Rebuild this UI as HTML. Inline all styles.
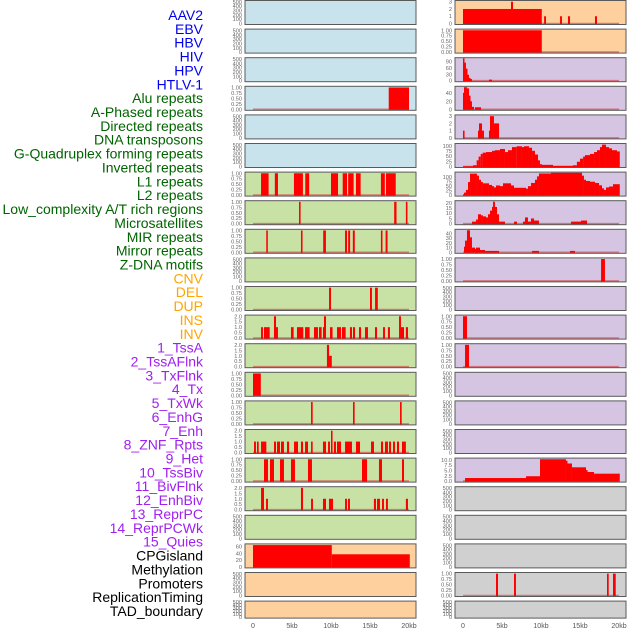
<!DOCTYPE html>
<html><head><meta charset="utf-8"><style>
html,body{margin:0;padding:0;background:#fff;}
svg{display:block;font-family:"Liberation Sans",sans-serif;}
</style></head><body>
<svg id="chart" width="630" height="630" viewBox="0 0 630 630" xmlns="http://www.w3.org/2000/svg"></svg>
<script>
// ---- labels ----
const labels=["AAV2","EBV","HBV","HIV","HPV","HTLV-1","Alu repeats","A-Phased repeats","Directed repeats","DNA transposons","G-Quadruplex forming repeats","Inverted repeats","L1 repeats","L2 repeats","Low_complexity A/T rich regions","Microsatellites","MIR repeats","Mirror repeats","Z-DNA motifs","CNV","DEL","DUP","INS","INV","1_TssA","2_TssAFlnk","3_TxFlnk","4_Tx","5_TxWk","6_EnhG","7_Enh","8_ZNF_Rpts","9_Het","10_TssBiv","11_BivFlnk","12_EnhBiv","13_ReprPC","14_ReprPCWk","15_Quies","CPGisland","Methylation","Promoters","ReplicationTiming","TAD_boundary"];
const labelColors=["#0000ee","#0000ee","#0000ee","#0000ee","#0000ee","#0000ee","#006400","#006400","#006400","#006400","#006400","#006400","#006400","#006400","#006400","#006400","#006400","#006400","#006400","#ffa500","#ffa500","#ffa500","#ffa500","#ffa500","#a020f0","#a020f0","#a020f0","#a020f0","#a020f0","#a020f0","#a020f0","#a020f0","#a020f0","#a020f0","#a020f0","#a020f0","#a020f0","#a020f0","#a020f0","#000","#000","#000","#000","#000"];
const xTicks=[0,5,10,15,20];
const xTickLabels=["0","5kb","10kb","15kb","20kb"];
// ---- data: [startKb, endKb, value] ----
const hivData=[[17.4,20,1]];
const aluData=[[1.03,2.0,1],[2.8,3.2,1],[5.25,6.4,1],[6.7,7.2,1],[10.0,10.9,1],[11.5,12.05,1],[12.2,12.9,1],[13.2,13.8,1],[16.4,16.9,1],[17.05,18.3,1]];
const aPhasedData=[[5.9,6.1,1],[18.1,18.4,1],[19.6,19.8,1]];
const directedData=[[1.7,1.9,1],[6.15,6.35,1],[9.0,9.35,1],[11.8,12.05,1],[12.2,12.45,1],[12.8,13.05,1],[16.4,16.6,1],[17.0,17.25,1]];
const gquadData=[[9.75,10.0,1],[15.0,15.25,1],[15.65,16.0,1]];
const invertedData=[[1.03,1.28,1],[1.41,2.14,1],[2.69,2.95,2],[2.95,3.2,1],[4.87,5.21,1],[5.64,6.45,1],[6.67,7.26,1],[7.82,8.33,1],[8.46,8.8,1],[8.97,9.1,1],[9.1,9.36,2],[9.87,10.2,1],[10.77,11.28,1],[11.41,11.88,1],[12.43,12.69,1],[12.82,13.08,1],[13.59,13.85,1],[14.36,14.74,1],[15.64,15.9,1],[16.67,16.92,1],[17.3,17.56,1],[18.72,18.97,2],[18.97,19.36,1],[19.6,19.87,1]];
const l1Data=[[9.48,9.75,2],[9.75,10.1,1]];
const l2Data=[[0,1.0,1]];
const lowCompData=[[7.44,7.65,1],[12.82,13.03,1],[18.85,19.06,1]];
const microsatData=[[0.13,0.38,1],[0.51,0.73,1],[1.03,1.71,1],[2.69,2.95,1],[3.08,3.46,1],[3.59,3.97,1],[4.36,4.62,1],[5.26,5.77,1],[6.15,6.41,1],[6.67,7.05,1],[7.44,7.65,1],[8.97,9.36,1],[9.62,9.87,1],[10.0,10.2,2],[10.38,10.64,1],[10.77,11.28,1],[11.8,12.69,1],[13.2,13.72,1],[15.13,15.51,1],[16.41,16.67,1],[16.92,17.3,1],[17.44,17.69,1],[17.95,18.2,1],[18.46,18.72,1],[19.1,19.6,1]];
const mirData=[[1.41,1.92,1],[2.18,2.69,1],[3.46,3.97,1],[4.87,5.38,1],[7.05,7.56,1],[13.97,14.62,1],[16.15,16.54,1],[19.1,19.36,1]];
const mirrorData=[[1.03,1.41,2],[1.67,1.92,1],[6.15,6.41,2],[7.44,7.69,1],[8.97,9.36,1],[9.74,10.26,1],[11.8,12.05,1],[12.18,12.43,1],[15.5,15.77,1],[15.9,16.28,1],[16.54,16.79,1],[17.05,17.3,1],[19.6,19.87,1]];
const cnvData=[[0,10.1,64],[10.1,20.1,37]];
const insData=[[0,10.1,2],[6.15,6.41,3],[10.4,10.64,1],[12.44,12.69,1],[13.46,13.72,1],[16.92,17.18,1]];
const invData=[[0,10.1,1]];
const tssAData=[[0,0.13,106],[0.13,0.38,85],[0.38,0.51,57],[0.51,0.77,28],[0.77,0.9,13],[0.9,1.15,8],[3.33,3.72,5]];
const tssAFlnkData=[[0,0.13,41],[0.13,0.51,55],[0.51,0.77,52],[0.77,0.9,34],[0.9,1.15,20],[1.15,1.41,6],[1.54,2.31,5]];
const txFlnkData=[[0,0.2,1],[1.92,2.05,1],[2.05,2.44,2],[2.44,2.69,1],[3.33,3.46,1],[3.46,3.97,3],[3.97,4.62,2]];
const txBreaks=[0,1.28,1.75,2.0,2.27,2.52,2.95,3.72,4.1,4.74,5.38,5.77,6.28,6.88,7.56,7.82,8.46,8.85,9.23,9.62,9.87,10.13,11.54,14.1,14.6,15.0,15.4,15.64,16.28,16.8,17.18,17.56,17.82,18.33,18.72,19.1,19.74,20.1];
const txValues=[1,6,30,48,61,67,70,76,79,85,70,79,94,98,94,98,91,76,58,30,11,8,3,6,23,38,48,55,61,70,79,94,106,94,88,79,73];
const txWkBreaks=[0,0.13,0.38,0.64,0.9,1.79,2.05,2.31,2.56,3.33,3.72,3.97,4.23,4.74,5.13,6.15,6.54,8.08,8.33,8.72,9.23,9.49,9.74,11.28,15.26,15.51,15.77,16.28,16.92,17.44,17.82,18.08,18.33,18.72,19.23,20.1];
const txWkValues=[4,14,29,73,120,109,86,73,66,57,50,43,54,50,66,54,41,36,50,68,86,105,121,125,109,86,79,75,68,55,38,29,43,48,61];
const enhGData=[[1.15,1.67,2],[1.67,1.92,4],[1.92,2.31,9],[2.31,2.56,8],[2.56,2.95,7],[2.95,3.2,6],[3.2,3.46,9],[3.46,3.72,12.5],[3.72,3.85,16],[3.85,4.1,21],[4.1,4.36,16],[4.36,4.62,9],[4.62,5.38,2],[6.54,6.92,2],[7.69,7.95,2],[7.95,8.33,6],[8.33,8.72,2],[8.72,9.1,5],[9.1,9.74,3],[13.85,15.13,2],[15.13,15.9,3]];
const enhData=[[0.13,0.26,12],[0.26,0.51,25],[0.51,0.9,47],[0.9,1.15,32],[1.15,1.54,10],[1.54,1.67,7],[1.67,2.18,10],[2.18,2.82,5],[2.82,4.62,3],[8.85,9.74,3],[13.72,14.36,3]];
const znfData=[[17.7,18.2,1]];
const tssBivData=[[0,0.51,1]];
const bivFlnkData=[[0.26,0.77,1]];
const quiesData=[[0.26,8.08,1.45],[8.08,9.87,2.3],[9.87,13.2,10.3],[13.2,13.33,9.6],[13.33,13.97,8.3],[13.97,15.77,6.5],[15.77,15.9,5.2],[15.9,16.8,4.3],[16.8,20.1,3.5]];
const replData=[[4.23,4.49,1],[6.54,6.79,1],[18.46,18.68,1],[19.23,19.58,1]];

function stepsToData(b,v){const o=[];for(let i=0;i<v.length;i++)o.push([b[i],b[i+1],v[i]]);return o;}

const T01=[[0,"0.00"],[0.25,"0.25"],[0.5,"0.50"],[0.75,"0.75"],[1,"1.00"]];
const T02=[[0,"0.0"],[0.5,"0.5"],[1,"1.0"],[1.5,"1.5"],[2,"2.0"]];
const TE=[[0,"0"],[100,"100"],[200,"200"],[300,"300"],[400,"400"],[500,"500"]];
function intT(a){return a.map(v=>[v,String(v)]);}

// panel specs: col,row -> {data,ymax,ticks}
const specs={};
function sp(c,r,data,ymax,ticks){specs[c+"_"+r]={data,ymax,ticks};}
sp(0,3,hivData,1.03,T01);
sp(0,6,aluData,1.03,T01);
sp(0,7,aPhasedData,1.03,T01);
sp(0,8,directedData,1.03,T01);
sp(0,10,gquadData,1.03,T01);
sp(0,11,invertedData,2.06,T02);
sp(0,12,l1Data,2.06,T02);
sp(0,13,l2Data,1.03,T01);
sp(0,14,lowCompData,1.03,T01);
sp(0,15,microsatData,2.06,T02);
sp(0,16,mirData,1.03,T01);
sp(0,17,mirrorData,2.06,T02);
sp(0,19,cnvData,66,intT([0,20,40,60]));
sp(1,0,insData,3.1,intT([0,1,2,3]));
sp(1,1,invData,1.03,T01);
sp(1,2,tssAData,106,intT([0,30,60,90]));
sp(1,3,tssAFlnkData,56,intT([0,20,40]));
sp(1,4,txFlnkData,3.1,intT([0,1,2,3]));
sp(1,5,stepsToData(txBreaks,txValues),109,intT([0,25,50,75,100]));
sp(1,6,stepsToData(txWkBreaks,txWkValues),126,intT([0,25,50,75,100]));
sp(1,7,enhGData,21.5,intT([0,5,10,15,20]));
sp(1,8,enhData,48,intT([0,10,20,30,40]));
sp(1,9,znfData,1.03,T01);
sp(1,11,tssBivData,1.03,T01);
sp(1,12,bivFlnkData,1.03,T01);
sp(1,16,quiesData,10.6,[[0,"0.0"],[2.5,"2.5"],[5,"5.0"],[7.5,"7.5"],[10,"10.0"]]);
sp(1,20,replData,1.03,T01);

const svg=document.getElementById('chart');
const NS="http://www.w3.org/2000/svg";
function mk(tag,attrs,parent){const e=document.createElementNS(NS,tag);for(const k in attrs)e.setAttribute(k,attrs[k]);(parent||svg).appendChild(e);return e;}

const colX=[245,455];
const panelW=171;
const leftBg=r=>r<6?"#c8e3eb":(r<19?"#c8e1a5":"#fdd09e");
const rightBg=r=>r<2?"#fdd09e":(r<17?"#d6c5e2":"#d0d0d0");
function xScale(c,kb){return colX[c]+8+kb*7.8;}

// labels
labels.forEach((t,i)=>{
  const el=mk('text',{x:203,y:15+i*13.86+5,'text-anchor':'end','font-size':'14',fill:labelColors[i]});
  el.textContent=t;
  
  
});

for(let c=0;c<2;c++){
  for(let r=0;r<22;r++){
    const top=0.5+r*28.6;
    const h=r===21?17:24;
    const bottom=top+h;
    const lab=labels[c*22+r];
    const g=mk('g',{});
    
    
    mk('rect',{x:colX[c],y:top,width:panelW,height:h,fill:c===0?leftBg(r):rightBg(r)},g);
    const s=specs[c+"_"+r];
    const ymax=s?s.ymax:520;
    const ticks=s?s.ticks:TE;
    const y0=bottom-1;
    const ys=v=>y0-(v/ymax)*(h-1.5);
    // y ticks
    ticks.forEach(([v,t])=>{
      const tl=mk('text',{x:colX[c]-3,y:ys(v)+2,'text-anchor':'end','font-size':'5.6',fill:'#666'},g);
      tl.textContent=t;
      
      
    });
    if(s){
      const base=mk('line',{x1:xScale(c,0),x2:xScale(c,20),y1:y0,y2:y0,stroke:'rgba(210,70,70,0.65)','stroke-width':1.6},g);
      
      
      s.data.forEach(([a,b,v])=>{
        const x1=xScale(c,a),x2=xScale(c,b);
        const yt=Math.max(top,ys(v));
        const rc=mk('rect',{x:x1,y:yt,width:Math.max(1.5,x2-x1),height:y0-yt+0.5,fill:'#ff0000'},g);
        
        
      });
    }
    mk('rect',{x:colX[c],y:top,width:panelW,height:h,fill:'none',stroke:'#5a5a5a','stroke-width':1},g);
  }
  xTicks.forEach((kb,i)=>{
    const t=mk('text',{x:xScale(c,kb),y:628,'text-anchor':'middle','font-size':'7',fill:'#555'});
    t.textContent=xTickLabels[i];
    
    
  });
}
</script>
</body></html>
